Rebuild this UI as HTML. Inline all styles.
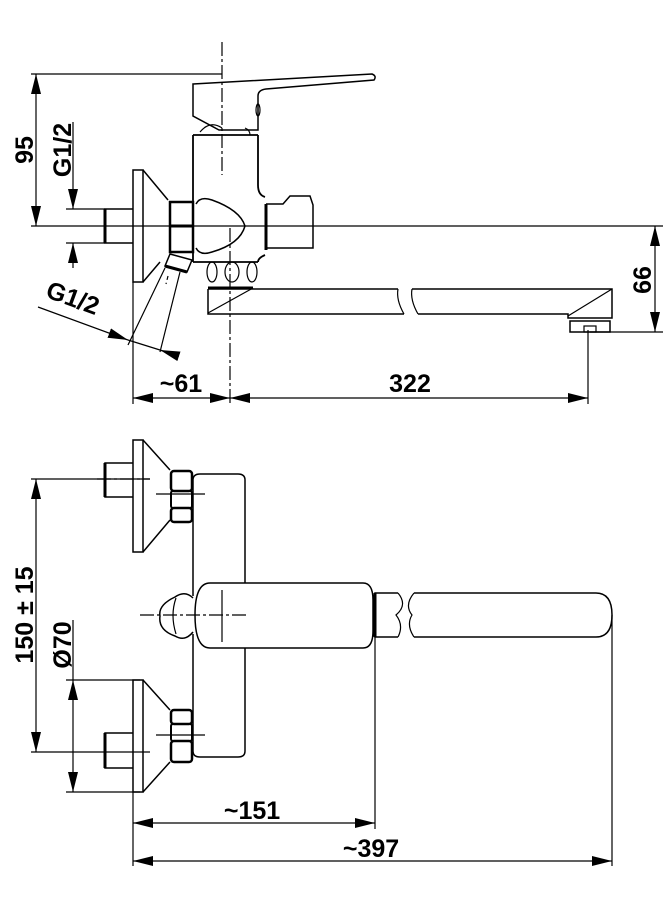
<!DOCTYPE html>
<html><head><meta charset="utf-8"><style>
html,body{margin:0;padding:0;background:#fff}
svg{display:block}
text{font-family:"Liberation Sans",Arial,sans-serif;font-weight:bold;font-size:25px;fill:#000}
</style></head><body>
<svg width="667" height="910" viewBox="0 0 667 910" xmlns="http://www.w3.org/2000/svg">
<defs>
<marker id="a" viewBox="0 0 20 10" refX="20" refY="5" markerWidth="20" markerHeight="10" markerUnits="userSpaceOnUse" orient="auto-start-reverse"><path d="M0,0 L20,5 L0,10 z" fill="#000"/></marker>
</defs>
<g fill="none" stroke="#000" stroke-width="1.2">
<!-- ===== TOP VIEW ===== -->
<line x1="31" y1="74" x2="222" y2="74"/>
<line x1="31" y1="226" x2="663" y2="226" />
<line x1="66" y1="209" x2="105" y2="209"/>
<line x1="66" y1="243" x2="105" y2="243"/>
<line x1="590" y1="332" x2="663" y2="332"/>
<line x1="36" y1="74" x2="36" y2="226" marker-start="url(#a)" marker-end="url(#a)"/>
<line x1="73" y1="122" x2="73" y2="209" marker-end="url(#a)"/>
<line x1="73" y1="268" x2="73" y2="243" marker-end="url(#a)"/>
<line x1="655" y1="226" x2="655" y2="332" marker-start="url(#a)" marker-end="url(#a)"/>
<!-- inlet stub -->
<path d="M133,209 H105 V243 H133" stroke-width="1.5"/>
<line x1="105" y1="209" x2="105" y2="243" stroke-width="3"/>
<rect x="133" y="170" width="10" height="112" stroke-width="1.5"/>
<path d="M143,170 L168,200 M143,282 L160,262" stroke-width="1.5"/>
<rect x="170" y="202" width="23" height="50" stroke-width="2.5"/>
<line x1="170" y1="226" x2="193" y2="226" stroke-width="3"/>
<!-- body -->
<line x1="193" y1="135" x2="258" y2="135" stroke-width="1.8"/>
<line x1="193" y1="135" x2="193" y2="262" stroke-width="1.8"/>
<line x1="193" y1="262" x2="258" y2="262" stroke-width="1.8"/>
<path d="M258,135 V185 Q258,195 265,197 M265,255 Q258,258 258,262" stroke-width="1.8"/>
<path d="M196,204 Q200,196 212,200 Q240,210 245,226 Q240,244 212,252 Q200,256 196,248" stroke-width="1.5"/>
<!-- handle -->
<path d="M193,84 L372,74 Q377,76 374,80 L266,89 Q258,90 258,96 V130 H219 L193,116 Z" stroke-width="1.5"/>
<path d="M200,132 Q210,120 222,128 M245,128 Q250,130 250,135" stroke-width="1.2"/>
<ellipse cx="258" cy="110" rx="2" ry="6"/>
<!-- diverter -->
<path d="M266,204 H283 L290,196 H310 L313,205 V248 H266" stroke-width="1.5"/>
<line x1="266" y1="204" x2="266" y2="250" stroke-width="3"/>
<ellipse cx="212" cy="272" rx="5" ry="10"/>
<ellipse cx="232" cy="272" rx="7" ry="10"/>
<ellipse cx="252" cy="272" rx="5" ry="10"/>
<!-- spout -->
<path d="M208,289 H398 M208,289 V314 H404" stroke-width="1.5"/>
<line x1="208" y1="288" x2="253" y2="288" stroke-width="3"/>
<line x1="208" y1="313" x2="253" y2="288"/>
<path d="M398,289 Q396,300 404,314" stroke-width="1.2"/>
<path d="M412,289 Q410,300 418,314" stroke-width="1.2"/>
<path d="M412,289 H612 V318 H568 V314 H418" stroke-width="1.5"/>
<line x1="568" y1="316" x2="612" y2="289"/>
<rect x="570" y="321" width="40" height="11" stroke-width="1.5"/>
<rect x="584" y="326" width="12" height="6"/>
<!-- hose connector -->
<path d="M170,254 L192,260 L187,272 L165,266 Z" stroke-width="1.5"/>
<line x1="165" y1="266" x2="187" y2="272" stroke-width="3"/>
<path d="M165,268 L128,345 M180,272 L160,352"/>
<line x1="168" y1="276" x2="166" y2="284" stroke-dasharray="4 3"/>
<line x1="38" y1="307" x2="128" y2="340" marker-end="url(#a)"/>
<line x1="175" y1="355" x2="160" y2="350" marker-end="url(#a)"/>
<line x1="160" y1="350" x2="128" y2="340"/>
<line x1="133" y1="282" x2="133" y2="404"/>
<line x1="230" y1="228" x2="230" y2="404" stroke-dasharray="14 3 3 3"/>
<line x1="588" y1="330" x2="588" y2="404"/>
<line x1="222" y1="42" x2="222" y2="175" stroke-dasharray="14 3 3 3"/>
<line x1="133" y1="398" x2="230" y2="398" marker-start="url(#a)" marker-end="url(#a)"/>
<line x1="230" y1="398" x2="588" y2="398" marker-start="url(#a)" marker-end="url(#a)"/>

<!-- ===== BOTTOM VIEW ===== -->
<line x1="31" y1="479" x2="150" y2="479"/>
<line x1="31" y1="752" x2="150" y2="752"/>
<line x1="66" y1="680" x2="140" y2="680"/>
<line x1="66" y1="792" x2="140" y2="792"/>
<line x1="36" y1="479" x2="36" y2="752" marker-start="url(#a)" marker-end="url(#a)"/>
<line x1="73" y1="620" x2="73" y2="680" />
<line x1="73" y1="680" x2="73" y2="792" marker-start="url(#a)" marker-end="url(#a)"/>
<path d="M133,463 H105 V497 H133" stroke-width="1.5"/>
<line x1="105" y1="463" x2="105" y2="497" stroke-width="3"/>
<rect x="133" y="440" width="10" height="112" stroke-width="1.5"/>
<path d="M143,440 L170,470 M143,552 L170,520" stroke-width="1.5"/>
<rect x="171" y="471" width="21" height="20" rx="3" stroke-width="2.5"/>
<rect x="171" y="491" width="21" height="17" rx="2" stroke-width="2"/>
<rect x="171" y="508" width="21" height="14" rx="3" stroke-width="2.5"/>
<path d="M133,733 H105 V768 H133" stroke-width="1.5"/>
<line x1="105" y1="733" x2="105" y2="768" stroke-width="3"/>
<rect x="133" y="680" width="10" height="112" stroke-width="1.5"/>
<path d="M143,680 L170,710 M143,792 L170,762" stroke-width="1.5"/>
<rect x="171" y="710" width="21" height="14" rx="3" stroke-width="2.5"/>
<rect x="171" y="724" width="21" height="17" rx="2" stroke-width="2"/>
<rect x="171" y="741" width="21" height="21" rx="3" stroke-width="2.5"/>
<path d="M193,596 V480 Q193,474 200,474 H238 Q245,474 245,480 V583" stroke-width="1.5"/>
<path d="M193,634 V751 Q193,757 200,757 H238 Q245,757 245,751 V648" stroke-width="1.5"/>
<path d="M210,583 H363 Q373,583 373,600 V631 Q373,648 363,648 H210 Q195,648 195,615 Q195,583 210,583 Z" stroke-width="1.5"/>
<path d="M193,598 Q185,590 175,597 Q158,605 160,616 Q158,630 175,636 Q185,642 193,632" stroke-width="1.5"/>
<path d="M176,598 Q170,615 176,634"/>
<line x1="140" y1="615" x2="248" y2="615" stroke-dasharray="14 3 3 3"/>
<line x1="222" y1="590" x2="222" y2="642"/>
<line x1="156" y1="494" x2="205" y2="494"/>
<line x1="156" y1="735" x2="205" y2="735"/>
<line x1="97" y1="479" x2="150" y2="479" stroke-dasharray="14 3 3 3"/>
<path d="M398,593 H375 V637 H398" stroke-width="1.5"/>
<line x1="375" y1="593" x2="375" y2="637" stroke-width="3"/>
<path d="M398,593 Q408,605 396,615 Q404,625 398,637"/>
<path d="M414,593 Q404,605 412,615 Q406,625 414,637"/>
<path d="M414,593 H596 Q612,593 612,615 Q612,637 596,637 H414" stroke-width="1.5"/>
<line x1="133" y1="792" x2="133" y2="866"/>
<line x1="375" y1="637" x2="375" y2="829"/>
<line x1="612" y1="615" x2="612" y2="866"/>
<line x1="133" y1="823" x2="375" y2="823" marker-start="url(#a)" marker-end="url(#a)"/>
<line x1="133" y1="861" x2="612" y2="861" marker-start="url(#a)" marker-end="url(#a)"/>
</g>
<text x="181" y="392" text-anchor="middle">~61</text>
<text x="410" y="392" text-anchor="middle">322</text>
<text x="252" y="819" text-anchor="middle">~151</text>
<text x="371" y="857" text-anchor="middle">~397</text>
<text transform="translate(33,150) rotate(-90)" text-anchor="middle">95</text>
<text transform="translate(71,150) rotate(-90)" text-anchor="middle">G1/2</text>
<text transform="translate(651,280) rotate(-90)" text-anchor="middle">66</text>
<text transform="translate(70,306) rotate(20)" text-anchor="middle">G1/2</text>
<text transform="translate(33,615) rotate(-90)" text-anchor="middle">150 ± 15</text>
<text transform="translate(71,645) rotate(-90)" text-anchor="middle">Ø70</text>
</svg>
</body></html>
